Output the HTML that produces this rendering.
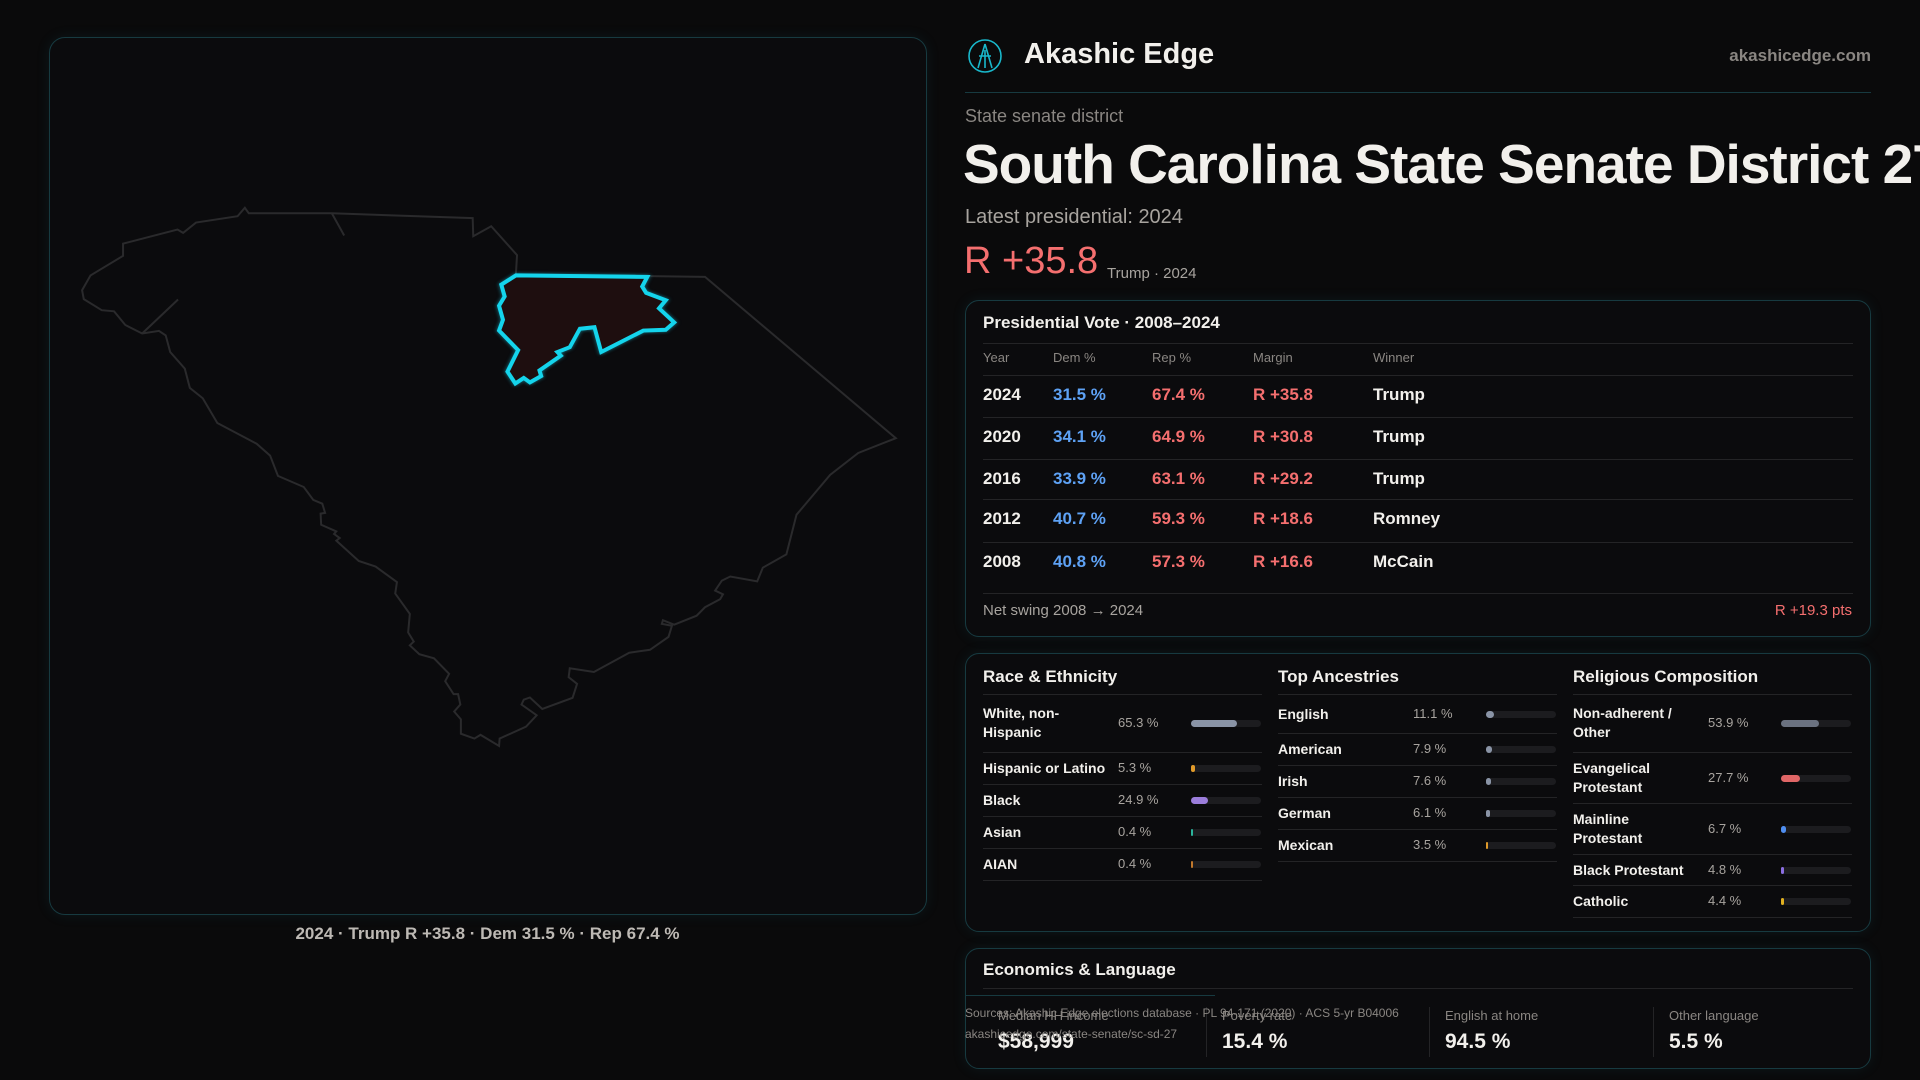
<!DOCTYPE html>
<html><head><meta charset="utf-8">
<style>
*{box-sizing:border-box;margin:0;padding:0}
body{width:1920px;height:1080px;background:#0a0a0b;font-family:"Liberation Sans",sans-serif;color:#f2f0ec;overflow:hidden;position:relative}
.abs{position:absolute;white-space:nowrap}
.card{position:absolute;background:#0b0b0d;border:1.5px solid #173a40;border-radius:14px;box-shadow:0 0 14px rgba(30,120,140,0.12)}
.hl{position:absolute;height:1px;background:#242426}
.lbl{color:#8a8682}
.dem{color:#5ea2f5}.rep{color:#f56f6f}
.bar-track{position:absolute;height:7px;border-radius:4px;background:#1c1c1f;width:70px}
.bar-fill{position:absolute;left:0;top:0;height:7px;border-radius:4px}
</style></head><body>

<div class="card" style="left:49px;top:37px;width:878px;height:878px;border-radius:16px">
</div>
<svg style="position:absolute;left:0;top:0" width="960" height="1000">
 <g transform="translate(40,180) scale(0.5612,0.3699)" fill="none" stroke="#2a2a2c" stroke-width="2">
  <path vector-effect="non-scaling-stroke" d="M365,75 L352,98 L278,115 L255,143 L245,134 L148,172 L148,205 L90,258 L75,298 L78,322 L110,352 L132,355 L152,392 L182,415 L212,408 L224,420 L232,465 L258,510 L267,562 L290,590 L316,657 L386,713 L410,745 L424,800 L470,830 L487,865 L503,875 L508,900 L500,902 L501,932 L528,950 L524,957 L534,968 L528,975 L568,1030 L598,1045 L636,1087 L633,1118 L659,1173 L656,1223 L666,1248 L659,1258 L676,1282 L702,1293 L729,1335 L722,1355 L737,1390 L745,1390 L749,1418 L738,1437 L750,1458 L750,1497 L774,1510 L785,1500 L818,1530 L819,1510 L866,1478 L885,1447 L858,1418 L862,1405 L873,1399 L895,1430 L949,1400 L957,1362 L942,1344 L944,1320 L987,1330 L1050,1278 L1087,1270 L1120,1235 L1126,1205 L1108,1200 L1110,1190 L1130,1202 L1170,1178 L1185,1155 L1212,1133 L1217,1120 L1203,1110 L1215,1083 L1230,1072 L1278,1085 L1288,1048 L1330,1012 L1348,905 L1408,797 L1458,738 L1525,698 L1185,262 L1085,260 L848,255 L850,203 L804,125 L772,152 L771,103 L520,90 L372,90 Z"/>
  <path vector-effect="non-scaling-stroke" d="M520,90 L542,150 M246,323 L182,415"/>
  <path vector-effect="non-scaling-stroke" fill="#1e0e0f" stroke="#14d4ec" stroke-width="4" style="filter:drop-shadow(0 0 4px rgba(20,200,230,0.6))" d="M848,258 L1082,262 L1073,288 L1080,305 L1115,325 L1103,347 L1130,385 L1115,405 L1075,407 L1000,465 L988,398 L962,402 L944,452 L922,465 L928,475 L890,515 L893,530 L873,547 L862,535 L847,550 L833,518 L852,460 L818,407 L825,378 L818,340 L828,315 L822,283 Z"/>
 </g>
</svg>
<div class="abs" style="left:0;width:975px;text-align:center;top:924px;font-size:17px;font-weight:bold;color:#bdb9b4">2024 · Trump R +35.8 · Dem 31.5 % · Rep 67.4 %</div>

<svg class="abs" style="left:967px;top:38px" width="36" height="36" viewBox="0 0 36 36" fill="none" stroke="#19b8cc" stroke-width="1.6"><circle cx="18" cy="18" r="16"/><path d="M18 6 L11 30 M18 6 L25 30 M12 18 L24 18 M18 12 L18 30"/></svg>
<div class="abs" style="left:1024px;top:38px;font-size:29px;font-weight:bold">Akashic Edge</div>
<div class="abs" style="right:49px;top:46px;font-size:17px;font-weight:bold;color:#8a8682">akashicedge.com</div>
<div class="abs" style="left:965px;top:92px;width:906px;height:1px;background:#173a40"></div>
<div class="abs lbl" style="left:965px;top:106px;font-size:18px">State senate district</div>
<div class="abs" style="left:963px;top:132px;font-size:55px;font-weight:bold;letter-spacing:-1px">South Carolina State Senate District 27</div>
<div class="abs lbl" style="left:965px;top:206px;font-size:20px;color:#a8a49f">Latest presidential: 2024</div>
<div class="abs rep" style="left:964px;top:240px;font-size:38px">R +35.8</div>
<div class="abs lbl" style="left:1107px;top:265px;font-size:15px;color:#a8a49f">Trump · 2024</div>

<div class="card" style="left:965px;top:300px;width:906px;height:337px"></div>
<div class="abs" style="left:983px;top:313px;font-size:17px;font-weight:bold">Presidential Vote · 2008–2024</div>
<div class="hl" style="left:983px;top:343px;width:870px"></div>
<div id="vote"></div>
<div class="hl" style="left:983px;top:593px;width:870px"></div>
<div class="abs lbl" style="left:983px;top:602px;font-size:15px;color:#a8a49f">Net swing 2008 → 2024</div>
<div class="abs rep" style="right:68px;top:602px;font-size:15px">R +19.3 pts</div>

<div class="card" style="left:965px;top:653px;width:906px;height:279px"></div>
<div id="demo"></div>

<div class="card" style="left:965px;top:948px;width:906px;height:121px"></div>
<div class="abs" style="left:983px;top:960px;font-size:17px;font-weight:bold">Economics &amp; Language</div>
<div class="hl" style="left:983px;top:988px;width:870px"></div>
<div class="abs" style="left:965px;top:995px;width:250px;height:1px;background:#173a40"></div>
<div id="econ"></div>
<div class="abs lbl" style="left:965px;top:1006px;font-size:12px">Sources: Akashic Edge elections database · PL 94-171 (2020) · ACS 5-yr B04006</div>
<div class="abs lbl" style="left:965px;top:1027px;font-size:12px">akashicedge.com/state-senate/sc-sd-27</div>

<script>
const years=["2024","2020","2016","2012","2008"];
const demPct=[31.5,34.1,33.9,40.7,40.8];
const repPct=[67.4,64.9,63.1,59.3,57.3];
const margins=[35.8,30.8,29.2,18.6,16.6];
const winners=["Trump","Trump","Trump","Romney","McCain"];
const raceLabels=["White, non-<br>Hispanic","Hispanic or Latino","Black","Asian","AIAN"];
const raceVals=[65.3,5.3,24.9,0.4,0.4];
const ancLabels=["English","American","Irish","German","Mexican"];
const ancVals=[11.1,7.9,7.6,6.1,3.5];
const relLabels=["Non-adherent /<br>Other","Evangelical<br>Protestant","Mainline<br>Protestant","Black Protestant","Catholic"];
const relVals=[53.9,27.7,6.7,4.8,4.4];
const econLabels=["Median HH income","Poverty rate","English at home","Other language"];
const econVals=["$58,999","15.4 %","94.5 %","5.5 %"];

function mk(parent,html,style,cls){const d=document.createElement('div');d.className='abs '+(cls||'');d.innerHTML=html;d.style.cssText=style;parent.appendChild(d);return d;}
const V=document.getElementById('vote');
const cols=[983,1053,1152,1253,1373];
["Year","Dem %","Rep %","Margin","Winner"].forEach((h,i)=>{
 const e=mk(V,h,`left:${cols[i]}px;top:350px;font-size:13px`,'lbl');
 
 
});
const rowTops=[375,417,459,499,542];
years.forEach((y,i)=>{
 const t=rowTops[i];
 const ln=document.createElement('div');ln.className='hl';ln.style.cssText=`left:983px;top:${t}px;width:870px`;V.appendChild(ln);
 const c=t+21-11;
 const cells=[[y,''],[demPct[i].toFixed(1)+' %','dem'],[repPct[i].toFixed(1)+' %','rep'],['R +'+margins[i].toFixed(1),'rep'],[winners[i],'']];
 cells.forEach((cc,j)=>{
  const e=mk(V,cc[0],`left:${cols[j]}px;top:${c}px;font-size:17px;font-weight:bold`,cc[1]);
  
  
 });
});
const D=document.getElementById('demo');
const colors={race:["#8a94a6","#e09a2a","#9b7ddb","#2bb39b","#c0782c"],anc:["#8a94a6","#8a94a6","#8a94a6","#8a94a6","#e09a2a"],rel:["#6b7280","#e06666","#4f8ef0","#8b6ee0","#e0b020"]};
function section(x,title,labels,vals,heights,cols2,name){
 const t=mk(D,title,`left:${x}px;top:667px;font-size:17px;font-weight:bold`);
 
 
 let y=694;
 const ln0=document.createElement('div');ln0.className='hl';ln0.style.cssText=`left:${x}px;top:${y}px;width:279px`;D.appendChild(ln0);
 labels.forEach((l,i)=>{
  const h=heights[i];const mid=y+h/2;
  const two=l.includes('<br>');
  const lb=mk(D,l,`left:${x}px;top:${mid-(two?19:9)}px;font-size:14px;font-weight:bold;line-height:19px`);
  
  
  const v=mk(D,vals[i].toFixed(1)+' %',`left:${x+135}px;top:${mid-8}px;font-size:13px;color:#a8a49f`);
  
  
  const tr=document.createElement('div');tr.className='bar-track';tr.style.left=(x+208)+'px';tr.style.top=(mid-3)+'px';
  
  
  const f=document.createElement('div');f.className='bar-fill';f.style.width=Math.max(2,vals[i]/100*70)+'px';f.style.background=cols2[i];
  tr.appendChild(f);D.appendChild(tr);
  y+=h;
  const ln=document.createElement('div');ln.className='hl';ln.style.cssText=`left:${x}px;top:${y}px;width:279px`;D.appendChild(ln);
 });
}
section(983,"Race &amp; Ethnicity",raceLabels,raceVals,[58,32,32,32,32],colors.race,'race');
section(1278,"Top Ancestries",ancLabels,ancVals,[39,32,32,32,32],colors.anc,'ancestry');
section(1573,"Religious Composition",relLabels,relVals,[58,51,51,31,32],colors.rel,'religion');
const E=document.getElementById('econ');
const ex=[998,1222,1445,1669];
econLabels.forEach((l,i)=>{
 if(i>0){const dv=document.createElement('div');dv.className='abs';dv.style.cssText=`left:${ex[i]-16}px;top:1007px;width:1px;height:50px;background:#242426`;E.appendChild(dv);}
 const a=mk(E,l,`left:${ex[i]}px;top:1008px;font-size:13px`,'lbl');
 
 
 const b=mk(E,econVals[i],`left:${ex[i]}px;top:1030px;font-size:21px;font-weight:bold`);
 
 
});
</script>
</body></html>
